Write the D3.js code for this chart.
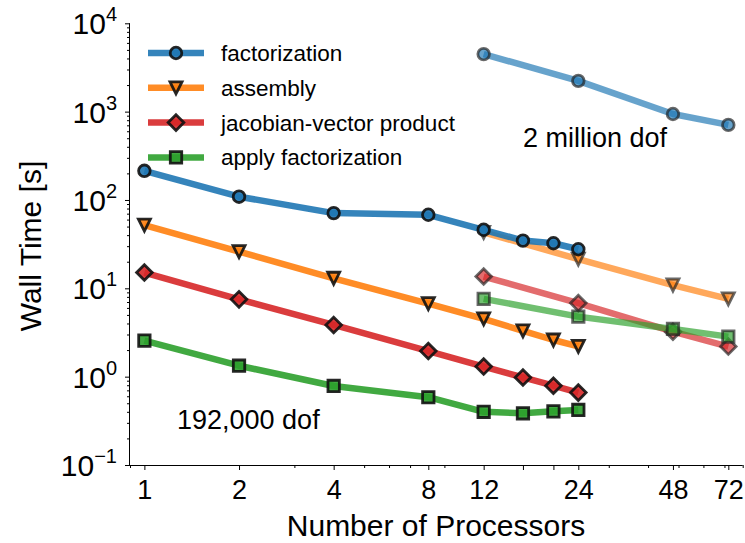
<!DOCTYPE html>
<html>
<head>
<meta charset="utf-8">
<script src="https://cdn.jsdelivr.net/npm/d3@7"></script>
<style>
  body { margin: 0; background: #fff; }
  svg { display: block; font-family: "Liberation Sans", Arial, sans-serif; }
</style>
</head>
<body>
<svg id="chart" width="745" height="543"></svg>
<script>
// processor counts
var procsSmall = [1, 2, 4, 8, 12, 16, 20, 24];
var procsLarge = [12, 24, 48, 72];

// wall times [s], 192,000 dof
var factSmall  = [214, 109, 71, 68, 46, 34.7, 32.4, 27.7];
var asmSmall   = [52, 26, 13, 6.7, 4.5, 3.3, 2.6, 2.2];
var jvpSmall   = [15.1, 7.5, 3.85, 1.95, 1.3, 0.98, 0.79, 0.66];
var applySmall = [2.56, 1.33, 0.785, 0.585, 0.40, 0.385, 0.405, 0.42];

// wall times [s], 2 million dof
var factLarge  = [4480, 2230, 940, 708];
var asmLarge   = [43, 21.4, 10.9, 7.6];
var jvpLarge   = [13.6, 6.8, 3.23, 2.19];
var applyLarge = [7.6, 4.78, 3.47, 2.84];

var seriesNames = ["factorization", "assembly", "jacobian-vector product", "apply factorization"];
var seriesColors = ["#1f77b4", "#ff7f0e", "#d62728", "#2ca02c"];
var seriesMarkers = ["circle", "triangle", "diamond", "square"];

var xTickLabeled = [1, 2, 4, 8, 12, 24, 48, 72];
var xTickUnlabeled = [16, 20];
var xTickMinor = [0.9, 3, 5, 6, 7, 9, 30, 40, 50, 60, 70, 80];
var yTickMajor = [0.1, 1, 10, 100, 1000, 10000];

var svg = d3.select("#chart");
var plotLeft = 130, plotRight = 742.7, plotTop = 23.3, plotBottom = 465;

var x = d3.scaleLog().base(2).domain([0.9, 80]).range([plotLeft, plotRight]);
var y = d3.scaleLog().domain([0.1, 10000]).range([plotBottom, plotTop]);

// y minor ticks: 2..9 in every decade
var yTickMinor = [];
[0.1, 1, 10, 100, 1000].forEach(function(d) {
  for (var k = 2; k <= 9; k++) yTickMinor.push(d * k);
});

// ---- axes ----
var xAxisG = svg.append("g").attr("transform", "translate(0," + plotBottom + ")");
xAxisG.call(d3.axisBottom(x).tickValues(xTickMinor).tickSize(3).tickFormat(""));
xAxisG.append("g").call(d3.axisBottom(x).tickValues(xTickUnlabeled).tickSize(5).tickFormat(""));
xAxisG.append("g").call(d3.axisBottom(x).tickValues(xTickLabeled).tickSize(5).tickPadding(10)
  .tickFormat(function(d) { return d; }));
xAxisG.selectAll(".domain").filter(function(d, i) { return i > 0; }).remove();
xAxisG.select(".domain").attr("d", "M" + plotLeft + ",0.5H" + plotRight);
xAxisG.selectAll("text").attr("font-size", 27).attr("fill", "#000")
  .attr("font-family", "Liberation Sans, Arial, sans-serif");

var yAxisG = svg.append("g").attr("transform", "translate(" + plotLeft + ",0)");
yAxisG.call(d3.axisLeft(y).tickValues(yTickMinor).tickSize(3).tickFormat(""));
yAxisG.append("g").call(d3.axisLeft(y).tickValues(yTickMajor).tickSize(5).tickFormat(""));
yAxisG.selectAll(".domain").filter(function(d, i) { return i > 0; }).remove();
yAxisG.select(".domain").attr("d", "M-0.5," + plotTop + "V" + plotBottom);
svg.selectAll(".tick line").attr("stroke", "#000");
svg.selectAll(".domain").attr("stroke", "#000");

// y labels with superscripts
var yLab = svg.append("g");
yTickMajor.forEach(function(v) {
  var e = Math.round(Math.log10(v));
  var t = yLab.append("text")
    .attr("x", 117)
    .attr("y", y(v) + 11)
    .attr("text-anchor", "end")
    .attr("font-size", 30)
    .attr("fill", "#000");
  t.append("tspan").text("10");
  t.append("tspan").attr("dy", -13).attr("font-size", 20)
    .text(e < 0 ? "\u2212" + (-e) : e);
});

// axis titles
svg.append("text")
  .attr("x", 436)
  .attr("y", 536)
  .attr("text-anchor", "middle")
  .attr("font-size", 30)
  .text("Number of Processors");

svg.append("text")
  .attr("transform", "translate(41,246) rotate(-90)")
  .attr("text-anchor", "middle")
  .attr("font-size", 30)
  .text("Wall Time [s]");

// ---- marks ----
function markerPath(type) {
  if (type === "circle") return d3.symbol().type(d3.symbolCircle).size(Math.PI * 5.8 * 5.8)();
  if (type === "triangle") return "M-6,-6L6,-6L0,6Z";
  if (type === "diamond") return "M0,-7.8L7.8,0L0,7.8L-7.8,0Z";
  return "M-5.7,-5.7H5.7V5.7H-5.7Z";
}

var line = d3.line()
  .x(function(d) { return x(d[0]); })
  .y(function(d) { return y(d[1]); });

function drawSeries(procs, vals, i, alpha, edge) {
  var pts = procs.map(function(p, j) { return [p, vals[j]]; });
  var g = svg.append("g");
  g.append("path")
    .datum(pts)
    .attr("d", line)
    .attr("fill", "none")
    .attr("stroke", seriesColors[i])
    .attr("stroke-opacity", alpha)
    .attr("stroke-width", 6.5)
    .attr("stroke-linejoin", "round");
  g.selectAll("path.mk")
    .data(pts)
    .enter()
    .append("path")
    .attr("class", "mk")
    .attr("transform", function(d) { return "translate(" + x(d[0]) + "," + y(d[1]) + ")"; })
    .attr("d", markerPath(seriesMarkers[i]))
    .attr("fill", seriesColors[i])
    .attr("fill-opacity", alpha)
    .attr("stroke", edge)
    .attr("stroke-opacity", alpha)
    .attr("stroke-width", 2.8);
}

var largeSets = [factLarge, asmLarge, jvpLarge, applyLarge];
var smallSets = [factSmall, asmSmall, jvpSmall, applySmall];
largeSets.forEach(function(v, i) { drawSeries(procsLarge, v, i, 0.68, "#222"); });
smallSets.forEach(function(v, i) { drawSeries(procsSmall, v, i, 0.9, "#111"); });

// annotations
svg.append("text").attr("x", 177).attr("y", 429).attr("font-size", 27).text("192,000 dof");
svg.append("text").attr("x", 523).attr("y", 147).attr("font-size", 27).text("2 million dof");

// ---- legend ----
var legend = svg.append("g");
seriesNames.forEach(function(name, i) {
  var ly = 53 + i * 34.8;
  legend.append("line")
    .attr("x1", 148).attr("x2", 204).attr("y1", ly).attr("y2", ly)
    .attr("stroke", seriesColors[i]).attr("stroke-opacity", 0.9).attr("stroke-width", 6.5);
  legend.append("path")
    .attr("transform", "translate(176," + ly + ")")
    .attr("d", markerPath(seriesMarkers[i]))
    .attr("fill", seriesColors[i]).attr("fill-opacity", 0.9)
    .attr("stroke", "#111").attr("stroke-opacity", 0.9).attr("stroke-width", 2.8);
  legend.append("text")
    .attr("x", 221).attr("y", ly + 8)
    .attr("font-size", 22.5)
    .text(name);
});
</script>
</body>
</html>
